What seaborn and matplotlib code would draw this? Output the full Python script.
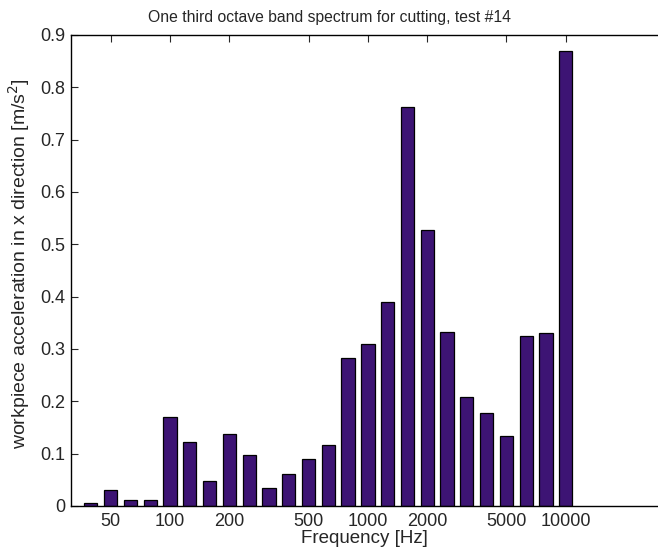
import matplotlib
matplotlib.use("Agg")
import matplotlib.pyplot as plt
import numpy as np
import pandas as pd
import seaborn as sns

# one third octave band centre frequencies [Hz]
bands = [40, 50, 63, 80, 100, 125, 160, 200, 250, 315, 400, 500, 630,
         800, 1000, 1250, 1600, 2000, 2500, 3150, 4000, 5000, 6300, 8000, 10000]
# workpiece acceleration in x direction [m/s^2]
accel = [0.005, 0.031, 0.011, 0.011, 0.170, 0.123, 0.048, 0.138, 0.097, 0.035,
         0.061, 0.090, 0.116, 0.283, 0.310, 0.389, 0.763, 0.528, 0.333, 0.209,
         0.178, 0.133, 0.325, 0.330, 0.870]
tick_freqs = [50, 100, 200, 500, 1000, 2000, 5000, 10000]

df = pd.DataFrame({'band': [str(b) for b in bands], 'accel': accel})

sns.set_theme(style="white")
plt.rcParams['font.family'] = ['Liberation Sans', 'DejaVu Sans']

fig = plt.figure(figsize=(6.58, 5.53), dpi=100)
ax = fig.add_axes([0.108, 0.085, 0.892, 0.852])

sns.barplot(data=df, x='band', y='accel', order=df['band'], color='#3d1474',
            saturation=1, width=0.67, edgecolor='black', linewidth=0.9, ax=ax)

# ticks at the labelled bands
pos = [bands.index(f) for f in tick_freqs]
ax.set_xticks(pos)
ax.set_xticklabels([str(f) for f in tick_freqs], fontsize=13)
ax.set_xlim(-1.0, 28.66)
ax.set_ylim(0, 0.9)
ax.set_yticks(np.arange(0, 0.91, 0.1))
ax.set_yticklabels(['0'] + ['%.1f' % v for v in np.arange(0.1, 0.91, 0.1)], fontsize=13)

ax.tick_params(axis='x', direction='in', top=True, bottom=True, length=5, width=0.8, pad=5)
ax.tick_params(axis='y', direction='in', left=True, length=5, width=0.8, pad=4)
for side in ['left', 'top', 'bottom']:
    ax.spines[side].set_color('black')
    ax.spines[side].set_linewidth(1.0)
ax.spines['right'].set_visible(False)

ax.set_xlabel('Frequency [Hz]', fontsize=13.5, labelpad=0)
ax.set_ylabel('workpiece acceleration in x direction [m/s$^2$]', fontsize=14)
ax.yaxis.set_label_coords(-0.066, 0.515)
ax.set_title('One third octave band spectrum for cutting, test #14', fontsize=11.3,
             x=0.441, pad=9)

fig.savefig('out.png', dpi=100)
